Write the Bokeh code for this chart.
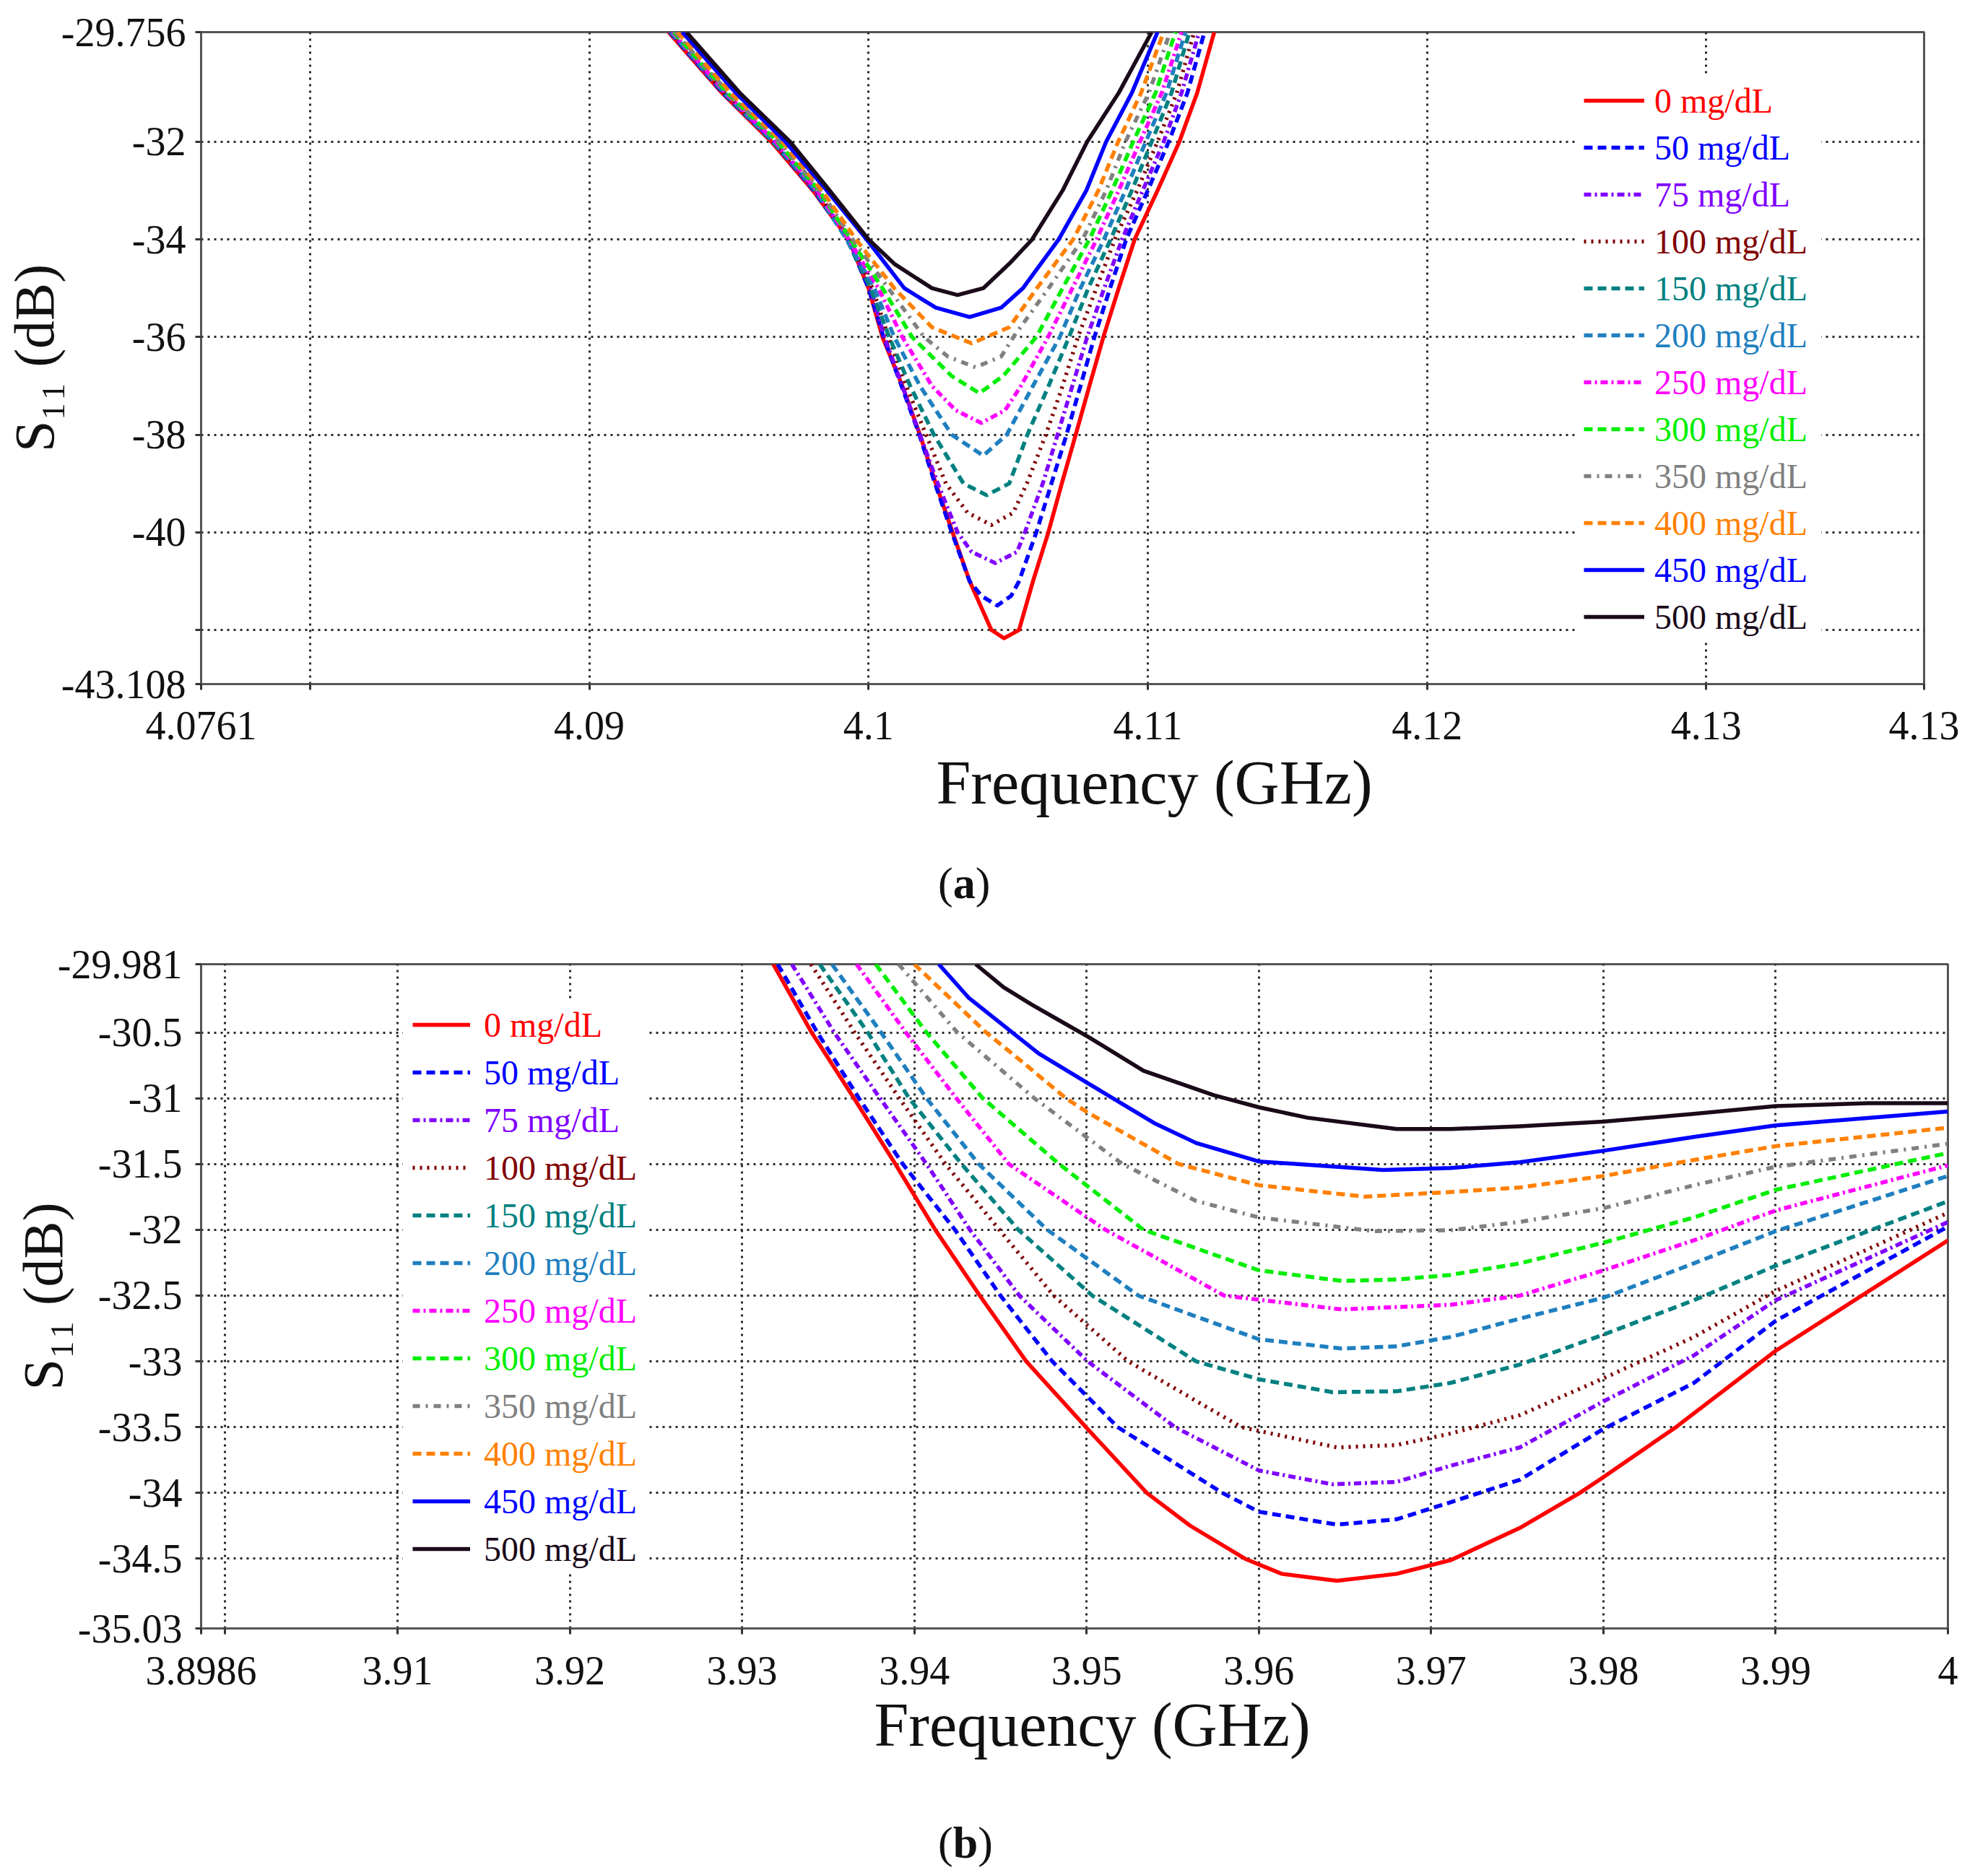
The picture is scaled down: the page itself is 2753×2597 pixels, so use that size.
from bokeh.plotting import figure
from bokeh.models import FixedTicker, Legend, LegendItem, Title, Div, Range1d
from bokeh.layouts import column
from bokeh.embed import file_html
from bokeh.resources import INLINE

# ---------------- legend / series styling ----------------
SERIES_LABELS = ["0 mg/dL", "50 mg/dL", "75 mg/dL", "100 mg/dL", "150 mg/dL", "200 mg/dL",
                 "250 mg/dL", "300 mg/dL", "350 mg/dL", "400 mg/dL", "450 mg/dL", "500 mg/dL"]
COLORS = ["#ff0000", "#0000ff", "#8000ff", "#800000", "#008080", "#1f7fbf",
          "#ff00ff", "#00ee00", "#808080", "#ff8000", "#0000ff", "#1a0a1a"]
DASHES = ["solid", "12 7", "10 5 3 5", "3 7", "12 7", "12 7",
          "10 5 3 5", "12 7", "10 8 3 8", "12 7", "solid", "solid"]

# ---------------- chart (a) data : frequency (GHz) / S11 (dB) ----------------
a0_f = [4.09284, 4.09475, 4.09652, 4.09801, 4.09929, 4.10000, 4.10050, 4.10121, 4.10184, 4.10241, 4.10301, 4.10362, 4.10440, 4.10485, 4.10539, 4.10589, 4.10644, 4.10692, 4.10742, 4.10791, 4.10841, 4.10896, 4.10953, 4.11035, 4.11113, 4.11177, 4.11238]
a0_s = [-29.756, -31, -32, -33, -34, -35, -36, -37, -38, -39, -40, -41, -42, -42.17, -42, -41, -40, -39, -38, -37, -36, -35, -34, -33, -32, -31, -29.756]
a50_f = [4.09288, 4.09478, 4.09657, 4.09804, 4.09926, 4.10000, 4.10054, 4.10118, 4.10182, 4.10238, 4.10298, 4.10362, 4.10404, 4.10461, 4.10511, 4.10539, 4.10601, 4.10655, 4.10709, 4.10759, 4.10809, 4.10865, 4.10923, 4.11000, 4.11075, 4.11142, 4.11203]
a50_s = [-29.756, -31, -32, -33, -34, -35, -36, -37, -38, -39, -40, -41, -41.3, -41.5, -41.3, -41, -40, -39, -38, -37, -36, -35, -34, -33, -32, -31, -29.756]
a75_f = [4.09291, 4.09482, 4.09660, 4.09809, 4.09929, 4.10007, 4.10057, 4.10121, 4.10184, 4.10248, 4.10319, 4.10369, 4.10454, 4.10532, 4.10560, 4.10624, 4.10677, 4.10730, 4.10783, 4.10844, 4.10908, 4.10982, 4.11057, 4.11121, 4.11184]
a75_s = [-29.756, -31, -32, -33, -34, -35, -36, -37, -38, -39, -40, -40.4, -40.63, -40.4, -40, -39, -38, -37, -36, -35, -34, -33, -32, -31, -29.756]
a100_f = [4.09294, 4.09485, 4.09662, 4.09813, 4.09932, 4.10014, 4.10071, 4.10135, 4.10206, 4.10277, 4.10355, 4.10440, 4.10518, 4.10567, 4.10635, 4.10695, 4.10750, 4.10816, 4.10882, 4.10962, 4.11035, 4.11104, 4.11166]
a100_s = [-29.756, -31, -32, -33, -34, -35, -36, -37, -38, -39, -39.6, -39.85, -39.6, -39, -38, -37, -36, -35, -34, -33, -32, -31, -29.756]
a150_f = [4.09291, 4.09482, 4.09657, 4.09809, 4.09922, 4.10007, 4.10074, 4.10149, 4.10234, 4.10340, 4.10423, 4.10504, 4.10569, 4.10645, 4.10718, 4.10787, 4.10867, 4.10943, 4.11014, 4.11085, 4.11149]
a150_s = [-29.756, -31, -32, -33, -34, -35, -36, -37, -38, -39, -39.24, -39, -38, -37, -36, -35, -34, -33, -32, -31, -29.756]
a200_f = [4.09294, 4.09485, 4.09662, 4.09813, 4.09922, 4.10021, 4.10092, 4.10184, 4.10298, 4.10411, 4.10495, 4.10589, 4.10685, 4.10759, 4.10843, 4.10920, 4.10993, 4.11067, 4.11135]
a200_s = [-29.756, -31, -32, -33, -34, -35, -36, -37, -38, -38.43, -38, -37, -36, -35, -34, -33, -32, -31, -29.756]
a250_f = [4.09298, 4.09489, 4.09667, 4.09816, 4.09929, 4.10035, 4.10121, 4.10227, 4.10312, 4.10404, 4.10489, 4.10546, 4.10643, 4.10730, 4.10817, 4.10896, 4.10972, 4.11050, 4.11121]
a250_s = [-29.756, -31, -32, -33, -34, -35, -36, -37, -37.5, -37.76, -37.5, -37, -36, -35, -34, -33, -32, -31, -29.756]
a300_f = [4.09302, 4.09494, 4.09674, 4.09823, 4.09936, 4.10050, 4.10156, 4.10298, 4.10397, 4.10482, 4.10601, 4.10695, 4.10791, 4.10872, 4.10948, 4.11028, 4.11099]
a300_s = [-29.756, -31, -32, -33, -34, -35, -36, -36.8, -37.15, -36.8, -36, -35, -34, -33, -32, -31, -29.756]
a350_f = [4.09308, 4.09499, 4.09681, 4.09827, 4.09943, 4.10071, 4.10199, 4.10284, 4.10383, 4.10475, 4.10519, 4.10645, 4.10767, 4.10851, 4.10920, 4.11004, 4.11080]
a350_s = [-29.756, -31, -32, -33, -34, -35, -36, -36.4, -36.62, -36.4, -36, -35, -34, -33, -32, -31, -29.756]
a400_f = [4.09316, 4.09506, 4.09691, 4.09833, 4.09955, 4.10092, 4.10227, 4.10369, 4.10504, 4.10603, 4.10733, 4.10823, 4.10894, 4.10976, 4.11057]
a400_s = [-29.756, -31, -32, -33, -34, -35, -35.8, -36.13, -35.8, -35, -34, -33, -32, -31, -29.756]
a450_f = [4.09333, 4.09525, 4.09702, 4.09851, 4.09993, 4.10128, 4.10241, 4.10362, 4.10475, 4.10553, 4.10681, 4.10780, 4.10851, 4.10943, 4.11035]
a450_s = [-29.756, -31, -32, -33, -34, -35, -35.4, -35.59, -35.4, -35, -34, -33, -32, -31, -29.756]
a500_f = [4.09348, 4.09539, 4.09719, 4.09861, 4.10000, 4.10092, 4.10227, 4.10319, 4.10411, 4.10504, 4.10586, 4.10695, 4.10783, 4.10896, 4.11014]
a500_s = [-29.756, -31, -32, -33, -34, -34.5, -35, -35.14, -35, -34.5, -34, -33, -32, -31, -29.756]

# ---------------- chart (b) data ----------------
b0_f = [3.93181, 3.93404, 3.93650, 3.93890, 3.94122, 3.94380, 3.94650, 3.94996, 3.95350, 3.95600, 3.95920, 3.96133, 3.96453, 3.96800, 3.97115, 3.97515, 3.97859, 3.98000, 3.98424, 3.99000, 4.00000]
b0_s = [-29.981, -30.5, -31, -31.5, -32, -32.5, -33, -33.5, -34, -34.248, -34.5, -34.615, -34.668, -34.615, -34.51, -34.266, -34.003, -33.88, -33.497, -32.92, -32.08]
b50_f = [3.93207, 3.93437, 3.93679, 3.93933, 3.94236, 3.94500, 3.94801, 3.95181, 3.95789, 3.96000, 3.96453, 3.96800, 3.97115, 3.97515, 3.98000, 3.98525, 3.99000, 4.00000]
b50_s = [-29.981, -30.5, -31, -31.5, -32, -32.5, -33, -33.5, -34, -34.143, -34.241, -34.2, -34.07, -33.9, -33.514, -33.164, -32.692, -31.976]
b75_f = [3.93289, 3.93535, 3.93801, 3.94071, 3.94323, 3.94610, 3.95006, 3.95514, 3.96000, 3.96427, 3.96800, 3.97111, 3.97515, 3.98000, 3.98525, 3.99000, 4.00000]
b75_s = [-29.981, -30.5, -31, -31.5, -32, -32.5, -33, -33.5, -33.829, -33.934, -33.916, -33.794, -33.654, -33.304, -32.955, -32.535, -31.941]
b100_f = [3.93400, 3.93654, 3.93913, 3.94181, 3.94494, 3.94809, 3.95242, 3.95898, 3.96453, 3.96800, 3.97111, 3.97515, 3.98000, 3.98525, 3.99000, 4.00000]
b100_s = [-29.981, -30.5, -31, -31.5, -32, -32.5, -33, -33.5, -33.654, -33.636, -33.549, -33.409, -33.129, -32.815, -32.465, -31.871]
b150_f = [3.93451, 3.93730, 3.93970, 3.94274, 3.94604, 3.95033, 3.95636, 3.96000, 3.96427, 3.96800, 3.97111, 3.97515, 3.98000, 3.98525, 3.99000, 4.00000]
b150_s = [-29.981, -30.5, -31, -31.5, -32, -32.5, -33, -33.136, -33.234, -33.227, -33.164, -33.024, -32.797, -32.535, -32.273, -31.783]
b200_f = [3.93522, 3.93807, 3.94071, 3.94374, 3.94772, 3.95301, 3.96000, 3.96480, 3.96800, 3.97111, 3.97515, 3.98000, 3.98525, 3.99000, 4.00000]
b200_s = [-29.981, -30.5, -31, -31.5, -32, -32.5, -32.832, -32.902, -32.885, -32.815, -32.675, -32.517, -32.255, -32.01, -31.591]
b250_f = [3.93665, 3.93951, 3.94244, 3.94549, 3.95110, 3.95799, 3.96480, 3.96800, 3.97111, 3.97515, 3.98000, 3.98525, 3.99000, 4.00000]
b250_s = [-29.981, -30.5, -31, -31.5, -32, -32.5, -32.605, -32.587, -32.57, -32.5, -32.308, -32.08, -31.853, -31.51]
b300_f = [3.93776, 3.94071, 3.94398, 3.94841, 3.95331, 3.96000, 3.96480, 3.96800, 3.97111, 3.97515, 3.98000, 3.98525, 3.99000, 4.00000]
b300_s = [-29.981, -30.5, -31, -31.5, -32, -32.308, -32.388, -32.378, -32.343, -32.255, -32.098, -31.906, -31.696, -31.416]
b350_f = [3.93909, 3.94250, 3.94697, 3.95209, 3.95635, 3.96000, 3.96667, 3.97111, 3.97515, 3.98000, 3.98525, 3.99000, 4.00000]
b350_s = [-29.981, -30.5, -31, -31.5, -31.78, -31.906, -32.01, -32.003, -31.94, -31.836, -31.661, -31.521, -31.346]
b400_f = [3.94000, 3.94417, 3.94640, 3.94880, 3.95006, 3.95535, 3.96000, 3.96613, 3.97111, 3.97515, 3.98000, 3.98525, 3.99000, 4.00000]
b400_s = [-29.981, -30.5, -30.738, -31, -31.108, -31.5, -31.661, -31.748, -31.713, -31.678, -31.591, -31.469, -31.364, -31.224]
b450_f = [3.94142, 3.94315, 3.94518, 3.94722, 3.95006, 3.95189, 3.95392, 3.95636, 3.96000, 3.96720, 3.97115, 3.97515, 3.98000, 3.98525, 3.99000, 4.00000]
b450_s = [-29.981, -30.235, -30.447, -30.659, -30.884, -31.029, -31.188, -31.34, -31.48, -31.545, -31.53, -31.486, -31.399, -31.294, -31.206, -31.101]
b500_f = [3.94356, 3.94518, 3.94681, 3.94823, 3.95006, 3.95331, 3.95738, 3.96002, 3.96283, 3.96800, 3.97115, 3.97515, 3.98000, 3.98525, 3.99000, 3.99535, 4.00000]
b500_s = [-29.981, -30.156, -30.288, -30.394, -30.53, -30.791, -30.976, -31.069, -31.148, -31.234, -31.234, -31.213, -31.178, -31.119, -31.059, -31.038, -31.038]

# ---------------- axes ----------------
A_XTICKS = [4.0761, 4.08, 4.09, 4.10, 4.11, 4.12, 4.13, 4.1378]
A_XLABELS = ["4.0761", "", "4.09", "4.1", "4.11", "4.12", "4.13", "4.13"]
A_YTICKS = [-29.756, -32, -34, -36, -38, -40, -42, -43.108]
A_YLABELS = ["-29.756", "-32", "-34", "-36", "-38", "-40", "", "-43.108"]

B_XTICKS = [3.8986, 3.90, 3.91, 3.92, 3.93, 3.94, 3.95, 3.96, 3.97, 3.98, 3.99, 4.00]
B_XLABELS = ["3.8986", "", "3.91", "3.92", "3.93", "3.94", "3.95", "3.96", "3.97", "3.98", "3.99", "4"]
B_YTICKS = [-29.981, -30.5, -31, -31.5, -32, -32.5, -33, -33.5, -34, -34.5, -35.03]
B_YLABELS = ["-29.981", "-30.5", "-31", "-31.5", "-32", "-32.5", "-33", "-33.5", "-34", "-34.5", "-35.03"]

A_FREQS = [a0_f, a50_f, a75_f, a100_f, a150_f, a200_f, a250_f, a300_f, a350_f, a400_f, a450_f, a500_f]
A_S11 = [a0_s, a50_s, a75_s, a100_s, a150_s, a200_s, a250_s, a300_s, a350_s, a400_s, a450_s, a500_s]
B_FREQS = [b0_f, b50_f, b75_f, b100_f, b150_f, b200_f, b250_f, b300_f, b350_f, b400_f, b450_f, b500_f]
B_S11 = [b0_s, b50_s, b75_s, b100_s, b150_s, b200_s, b250_s, b300_s, b350_s, b400_s, b450_s, b500_s]

FONT = "Liberation Serif"


def make_chart(freqs, s11s, xr, yr, xticks, xlabels, yticks, ylabels, geom):
    p = figure(frame_width=geom["fw"], frame_height=geom["fh"],
               x_range=Range1d(*xr), y_range=Range1d(*yr),
               output_backend="svg", toolbar_location=None,
               min_border_left=geom["bl"], min_border_right=geom["br"],
               min_border_top=geom["bt"], min_border_bottom=geom["bb"])
    p.background_fill_color = "white"
    p.border_fill_color = "white"
    p.outline_line_color = "#555555"
    p.outline_line_width = 3

    p.xaxis.ticker = FixedTicker(ticks=xticks, minor_ticks=[])
    p.yaxis.ticker = FixedTicker(ticks=yticks, minor_ticks=[])
    p.xaxis.major_label_overrides = {t: l for t, l in zip(xticks, xlabels)}
    p.yaxis.major_label_overrides = {t: l for t, l in zip(yticks, ylabels)}
    for ax in (p.xaxis, p.yaxis):
        ax.axis_line_color = "#555555"
        ax.axis_line_width = 3
        ax.major_tick_line_color = "#333333"
        ax.major_tick_line_width = 3
        ax.major_tick_out = 8
        ax.major_tick_in = 0
        ax.minor_tick_out = 0
        ax.minor_tick_in = 0
        ax.major_label_text_font = FONT
        ax.major_label_text_font_size = "56px"
        ax.major_label_text_color = "#111111"
    p.xaxis.major_label_standoff = geom["xstand"]
    p.yaxis.major_label_standoff = geom["ystand"]

    p.yaxis.axis_label = "S\u2081\u2081 (dB)"
    p.yaxis.axis_label_text_font = FONT
    p.yaxis.axis_label_text_font_size = "78px"
    p.yaxis.axis_label_text_font_style = "normal"
    p.yaxis.axis_label_text_color = "#111111"
    p.yaxis.axis_label_standoff = geom["ylab_stand"]

    for g in (p.xgrid, p.ygrid):
        g.grid_line_color = "#2a2a2a"
        g.grid_line_width = 3
        g.grid_line_dash = "3 6"

    rends = []
    for f, s, c, d in zip(freqs, s11s, COLORS, DASHES):
        r = p.line(f, s, line_color=c, line_width=5.5, line_dash=d, line_join="round")
        rends.append(r)

    p.add_layout(Title(text="Frequency (GHz)", align="left", offset=geom["xt_off"],
                       text_font=FONT, text_font_size="86px", text_font_style="normal",
                       text_color="#111111", standoff=geom["xt_stand"]), "below")

    # background + glyph legend
    big = Legend(items=[LegendItem(label=" ", renderers=[r]) for r in rends],
                 location=geom["leg_loc"], orientation="vertical",
                 glyph_width=geom["gw"], glyph_height=40, label_height=40,
                 label_width=geom["lw"], label_standoff=geom["ls"],
                 spacing=geom["sp"], padding=geom["pad"], margin=0,
                 label_text_font_size="10px",
                 background_fill_color="white", background_fill_alpha=1.0,
                 border_line_alpha=0)
    p.add_layout(big)
    # coloured labels
    for i, (lab, r, c) in enumerate(zip(SERIES_LABELS, rends, COLORS)):
        lg = Legend(items=[LegendItem(label=lab, renderers=[r])],
                    location=(geom["tx"], geom["ty0"] - geom["pitch"] * i),
                    glyph_width=0, glyph_height=60, label_height=60, label_standoff=0,
                    padding=0, margin=0, spacing=0,
                    label_text_font=FONT, label_text_font_size="48px", label_text_color=c,
                    background_fill_alpha=0, border_line_alpha=0)
        p.add_layout(lg)
    return p


geom_a = dict(fw=2386, fh=903, bl=274, br=60, bt=44, bb=200, xstand=30, ystand=13,
              ylab_stand=-9, xt_off=1018, xt_stand=14,
              leg_loc=(1903, 61), gw=84, lw=219, ls=14, sp=25, pad=12,
              tx=2013, ty0=778, pitch=65)
geom_b = dict(fw=2419, fh=920, bl=260, br=50, bt=43, bb=200, xstand=31, ystand=18,
              ylab_stand=-26, xt_off=932, xt_stand=6,
              leg_loc=(280, 77), gw=80, lw=213, ls=19, sp=26, pad=13,
              tx=392, ty0=806, pitch=66)

pa = make_chart(A_FREQS, A_S11, (4.0761, 4.1378), (-43.108, -29.756),
                A_XTICKS, A_XLABELS, A_YTICKS, A_YLABELS, geom_a)
pb = make_chart(B_FREQS, B_S11, (3.8986, 4.0), (-35.03, -29.981),
                B_XTICKS, B_XLABELS, B_YTICKS, B_YLABELS, geom_b)

cap_style = "font-family:'Liberation Serif'; font-size:62px; line-height:74px; color:#111; padding-left:1294px;"
div_a = Div(text=f'<div style="{cap_style} padding-top:34px;">(<b>a</b>)</div>', width=2720, height=135)
div_b = Div(text=f'<div style="{cap_style} padding-top:55px;">(<b>b</b>)</div>', width=2720, height=125)

layout = column(pa, div_a, pb, div_b)
open("out.html", "w").write(file_html(layout, INLINE))
